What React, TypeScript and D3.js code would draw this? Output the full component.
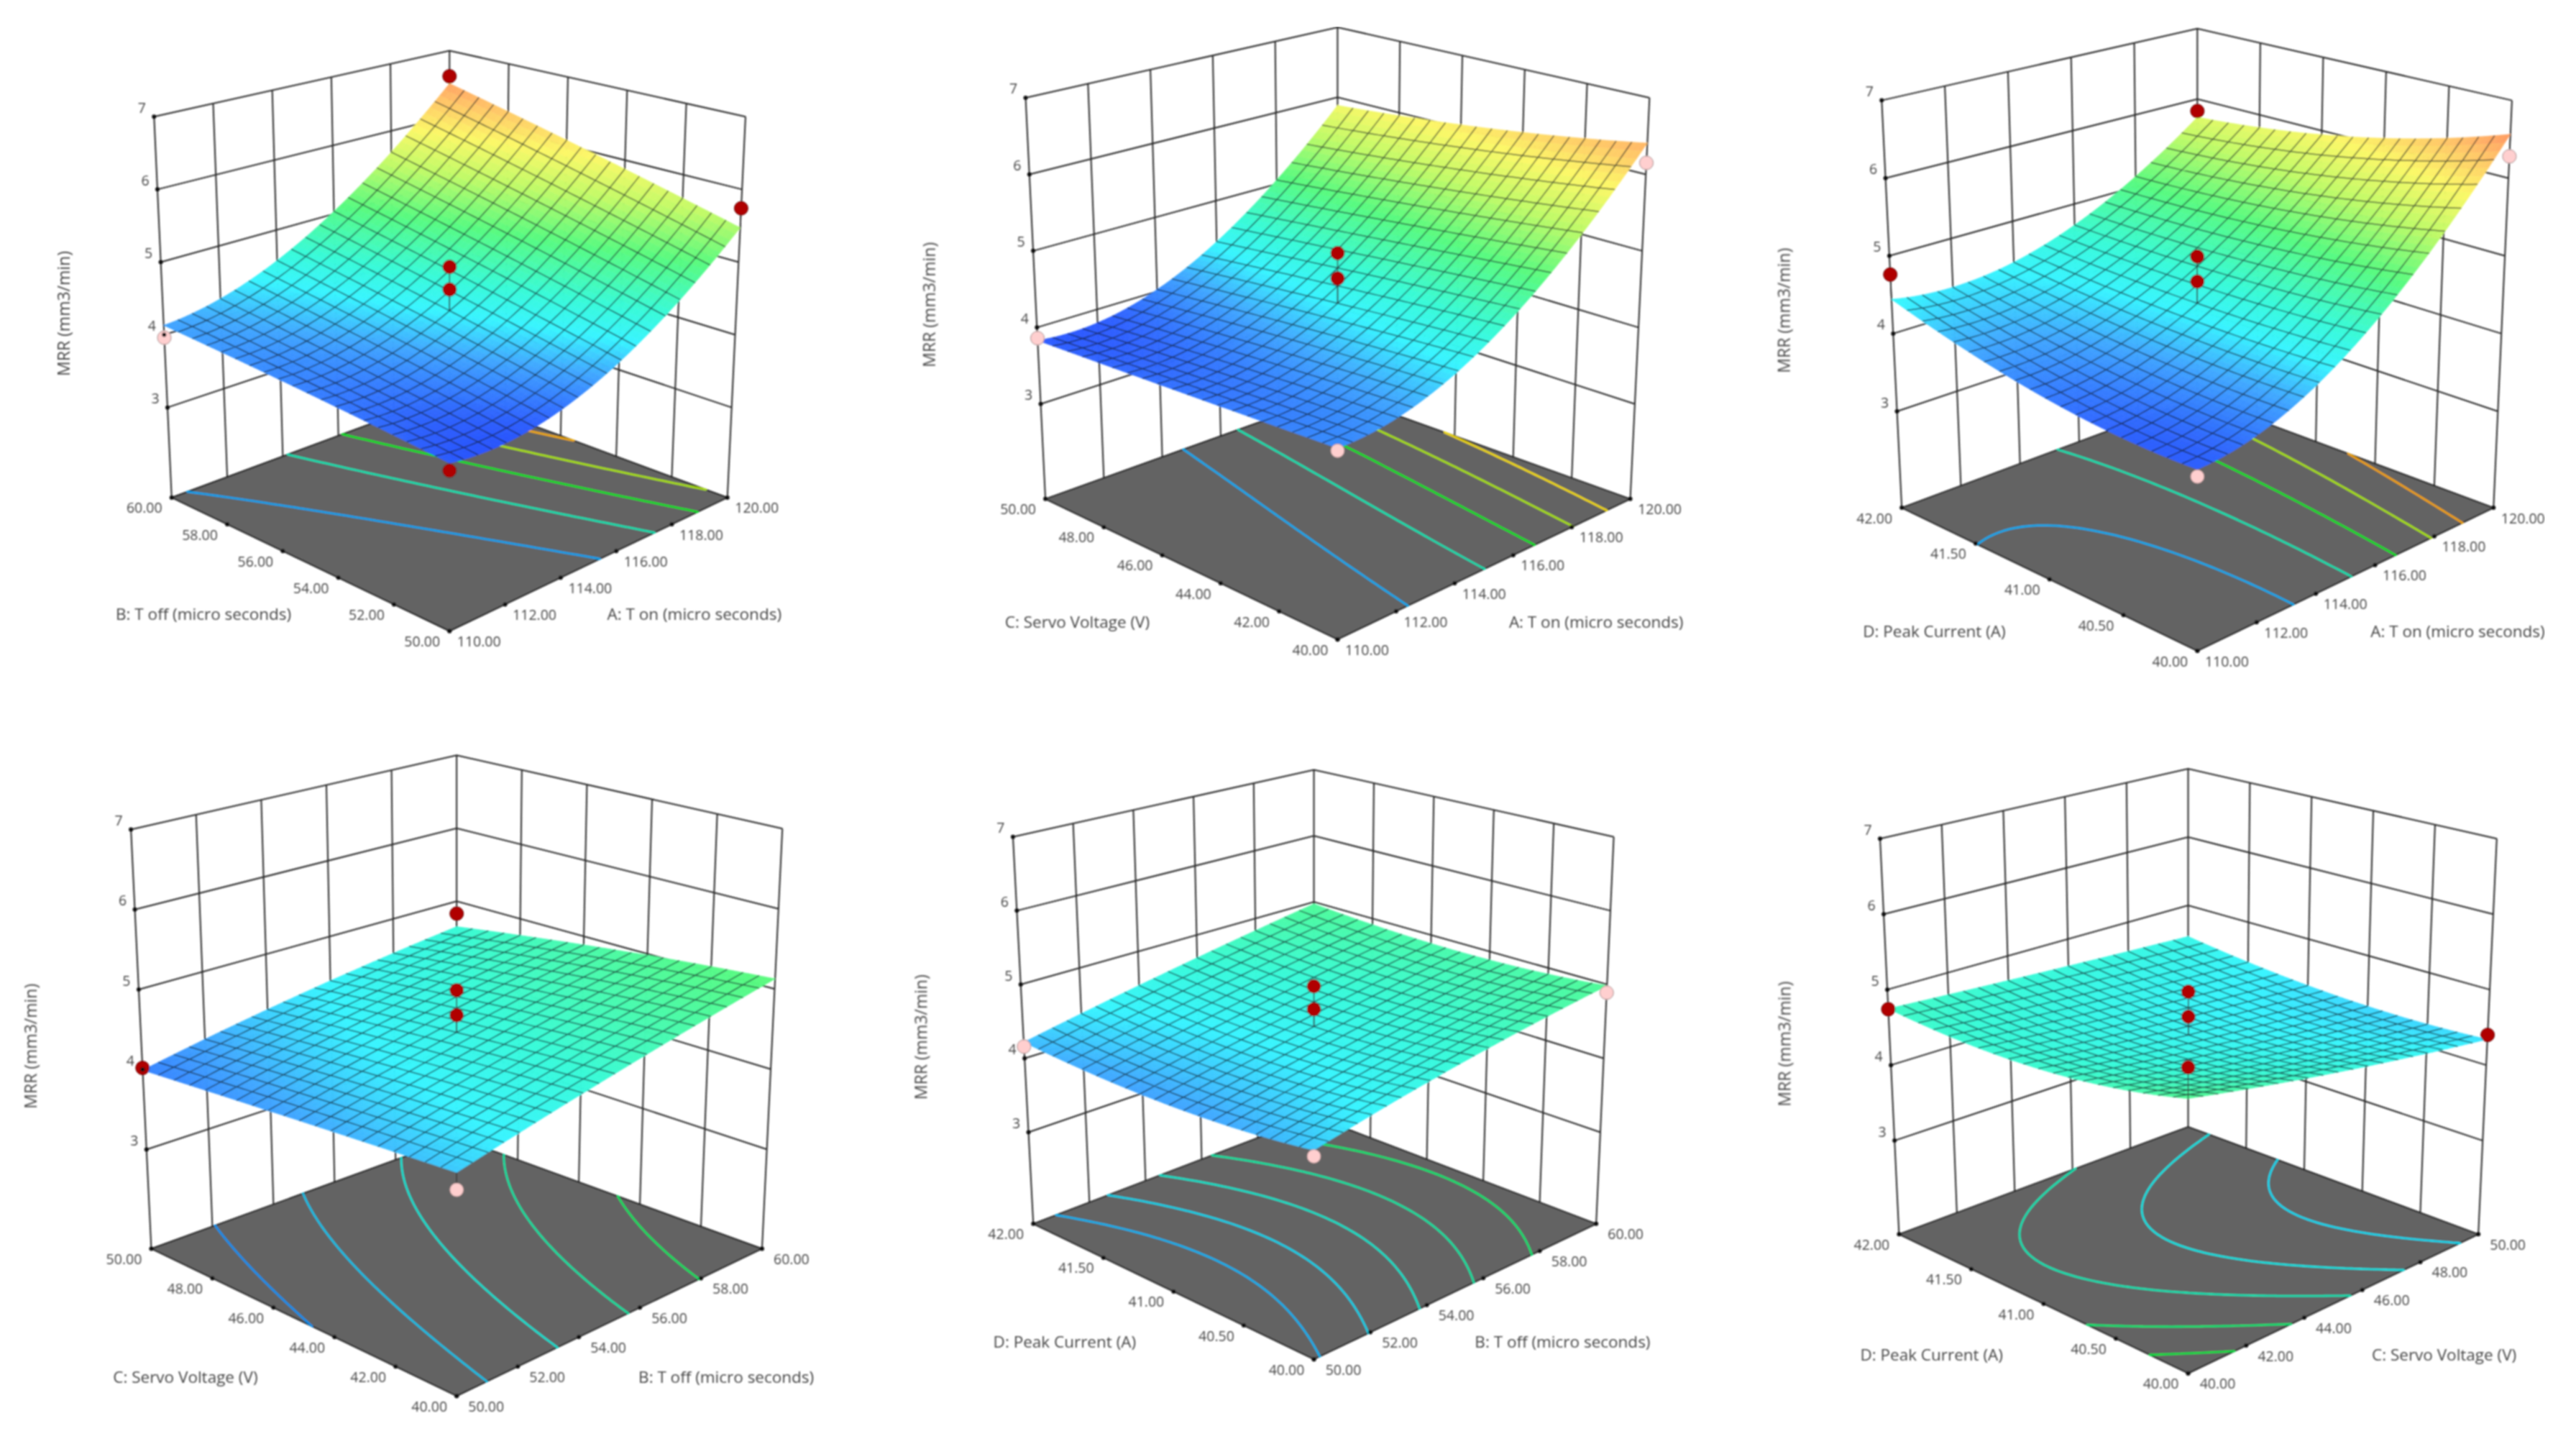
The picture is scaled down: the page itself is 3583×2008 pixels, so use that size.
import React, { useMemo } from "react";
import * as d3 from "d3";

// ---------- axis values ----------
const axisA = [110, 112, 114, 116, 118, 120];
const axisB = [50, 52, 54, 56, 58, 60];
const axisC = [40, 42, 44, 46, 48, 50];
const axisD = [40, 40.5, 41, 41.5, 42];
const zTicks = [3, 4, 5, 6, 7];
const titleA = "A: T on (micro seconds)";
const titleB = "B: T off (micro seconds)";
const titleC = "C: Servo Voltage (V)";
const titleD = "D: Peak Current (A)";
const zTitle = "MRR (mm3/min)";

// ---------- surface read-offs: rows follow the left-hand factor, columns the right-hand factor ----------
const surfaceAB = [
  [3.80, 3.86, 4.06, 4.60, 5.49],
  [3.88, 3.98, 4.25, 4.80, 5.75],
  [3.96, 4.12, 4.42, 5.00, 6.00],
  [4.04, 4.24, 4.58, 5.25, 6.25],
  [4.12, 4.35, 4.75, 5.52, 6.50],
];
const surfaceAC = [
  [4.05, 4.15, 4.58, 5.38, 6.40],
  [3.99, 4.10, 4.50, 5.24, 6.22],
  [3.93, 4.05, 4.42, 5.12, 6.10],
  [3.87, 3.99, 4.30, 4.98, 6.00],
  [3.80, 3.92, 4.18, 4.85, 5.90],
];
const surfaceAD = [
  [3.83, 4.03, 4.53, 5.38, 6.56],
  [3.90, 4.05, 4.52, 5.25, 6.28],
  [3.98, 4.08, 4.50, 5.12, 6.00],
  [4.12, 4.14, 4.50, 5.05, 5.85],
  [4.45, 4.42, 4.55, 5.02, 5.75],
];
const surfaceBC = [
  [4.27, 4.47, 4.70, 4.93, 5.12],
  [4.21, 4.42, 4.62, 4.84, 5.04],
  [4.14, 4.36, 4.55, 4.76, 4.94],
  [4.07, 4.28, 4.46, 4.65, 4.80],
  [4.00, 4.16, 4.36, 4.51, 4.65],
];
const surfaceBD = [
  [4.27, 4.45, 4.65, 4.85, 4.98],
  [4.18, 4.34, 4.55, 4.74, 4.88],
  [4.13, 4.30, 4.51, 4.70, 4.88],
  [4.15, 4.33, 4.53, 4.72, 4.90],
  [4.23, 4.38, 4.60, 4.80, 4.96],
];
const surfaceCD = [
  [5.02, 4.80, 4.66, 4.50, 4.32],
  [4.84, 4.68, 4.55, 4.43, 4.33],
  [4.70, 4.60, 4.50, 4.40, 4.32],
  [4.66, 4.57, 4.50, 4.44, 4.38],
  [4.76, 4.70, 4.66, 4.60, 4.56],
];

// ---------- contour levels and colours ----------
const levelsAB = [4.15, 4.6, 5.08, 5.55, 6.03];
const linesAB = ["#00a0f0", "#00e0b0", "#00e020", "#a8e000", "#f0a800"];
const levelsAC = [4.15, 4.6, 5.08, 5.55, 6.03];
const linesAC = ["#00a8f0", "#00e0b0", "#00e020", "#a8e000", "#f0d800"];
const levelsAD = [4.15, 4.6, 5.08, 5.55, 6.03];
const linesAD = ["#00a8f0", "#00e0b0", "#00e020", "#a8e000", "#f0a000"];
const levelsBC = [4.15, 4.35, 4.55, 4.75, 4.95];
const linesBC = ["#0090f0", "#00c0e8", "#00e0d0", "#00e0a0", "#00e060"];
const levelsBD = [4.28, 4.42, 4.56, 4.7, 4.84];
const linesBD = ["#00b0f0", "#00d0e8", "#00e0c8", "#00e0a0", "#00e070"];
const levelsCD = [4.38, 4.5, 4.62, 4.76, 4.9];
const linesCD = ["#00d8f0", "#00e0e0", "#00e0b0", "#00e070", "#00e040"];

// ---------- design points: [right-hand factor, left-hand factor, response, above surface] ----------
const pointsAB: [number, number, number, boolean][] = [
  [120, 60, 6.61, true], [120, 50, 5.74, true], [110, 60, 3.96, false], [110, 50, 3.73, true], [115, 55, 5.02, true], [115, 55, 4.71, true],
];
const pointsAC: [number, number, number, boolean][] = [
  [110, 50, 3.86, false], [120, 40, 6.15, false], [110, 40, 4.01, false], [115, 45, 5.08, true], [115, 45, 4.75, true],
];
const pointsAD: [number, number, number, boolean][] = [
  [110, 42, 4.76, true], [120, 40, 6.28, false], [120, 42, 5.83, true], [110, 40, 3.77, false], [115, 41, 5.08, true], [115, 41, 4.76, true],
];
const pointsBC: [number, number, number, boolean][] = [
  [50, 50, 4.02, true], [50, 40, 4.07, false], [60, 50, 4.83, true], [55, 45, 5.08, true], [55, 45, 4.77, true],
];
const pointsBD: [number, number, number, boolean][] = [
  [50, 42, 4.16, false], [60, 40, 4.89, false], [50, 40, 4.19, false], [55, 41, 5.05, true], [55, 41, 4.74, true],
];
const pointsCD: [number, number, number, boolean][] = [
  [40, 42, 4.74, true], [50, 40, 4.40, true], [40, 40, 5.39, true], [45, 41, 5.06, true], [45, 41, 4.73, true],
];

// ---------- layout ----------
const WIDTH = 3583;
const HEIGHT = 2008;
const Z_FLOOR = 1.76;
const Z_TOP = 7;
type Pt = [number, number];
const layouts = [
  { ox: 0, oy: 0, kx: 1.3067, ky: 1.633, F: [817, 1433], R: [1322, 1130], L: [312, 1130], B: [817, 896], TF: [817, 464], TR: [1355, 265], TL: [280, 265], TB: [817, 115], tl: [370, 1393], tr: [1262, 1393], tz: [115, 712] },
  { ox: 1200, oy: 0, kx: 1.3067, ky: 1.633, F: [863, 1452], R: [1395, 1133], L: [332, 1133], B: [863, 895], TF: [863, 454], TR: [1430, 222], TL: [296, 222], TB: [863, 62], tl: [390, 1412], tr: [1333, 1412], tz: [120, 692] },
  { ox: 2400, oy: 0, kx: 1.3255, ky: 1.633, F: [870, 1478], R: [1416, 1153], L: [325, 1153], B: [870, 903], TF: [870, 446], TR: [1450, 228], TL: [288, 228], TB: [870, 65], tl: [385, 1433], tr: [1350, 1433], tz: [107, 705] },
  { ox: 0, oy: 1020, kx: 1.3067, ky: 1.587, F: [830, 1462], R: [1385, 1137], L: [275, 1137], B: [830, 892], TF: [830, 430], TR: [1422, 210], TL: [238, 212], TB: [830, 48], tl: [337, 1420], tr: [1320, 1420], tz: [55, 690] },
  { ox: 1200, oy: 1020, kx: 1.3067, ky: 1.587, F: [820, 1381], R: [1333, 1082], L: [310, 1082], B: [820, 845], TF: [820, 415], TR: [1365, 228], TL: [273, 228], TB: [820, 80], tl: [367, 1342], tr: [1272, 1342], tz: [105, 670] },
  { ox: 2400, oy: 1020, kx: 1.3255, ky: 1.587, F: [853, 1412], R: [1388, 1105], L: [320, 1105], B: [853, 868], TF: [853, 437], TR: [1422, 232], TL: [285, 232], TB: [853, 78], tl: [380, 1370], tr: [1325, 1370], tz: [108, 685] },
];

const panels = [
  { uAxis: axisA, vAxis: axisB, uTitle: titleA, vTitle: titleB, surface: surfaceAB, levels: levelsAB, lines: linesAB, points: pointsAB },
  { uAxis: axisA, vAxis: axisC, uTitle: titleA, vTitle: titleC, surface: surfaceAC, levels: levelsAC, lines: linesAC, points: pointsAC },
  { uAxis: axisA, vAxis: axisD, uTitle: titleA, vTitle: titleD, surface: surfaceAD, levels: levelsAD, lines: linesAD, points: pointsAD },
  { uAxis: axisB, vAxis: axisC, uTitle: titleB, vTitle: titleC, surface: surfaceBC, levels: levelsBC, lines: linesBC, points: pointsBC },
  { uAxis: axisB, vAxis: axisD, uTitle: titleB, vTitle: titleD, surface: surfaceBD, levels: levelsBD, lines: linesBD, points: pointsBD },
  { uAxis: axisC, vAxis: axisD, uTitle: titleC, vTitle: titleD, surface: surfaceCD, levels: levelsCD, lines: linesCD, points: pointsCD },
];

const colorDomain = [3.6, 3.85, 4.15, 4.4, 4.65, 5.1, 5.55, 5.95, 6.3, 6.7];
const colorRange = ["#2238ff", "#2e60ff", "#40a8ff", "#38f4ff", "#38fad8", "#58fa80", "#c0fa68", "#fcf868", "#ffc468", "#ff8060"];
const surfaceColor = d3.scaleLinear<string>().domain(colorDomain).range(colorRange).interpolate(d3.interpolateRgb).clamp(true);

const FONT = "'Open Sans', 'Noto Sans', sans-serif";
const MESH = 20;
const SUB = 3;
const fmt = d3.format(".2f");
const fracs = [0, 0.2, 0.4, 0.6, 0.8, 1];

// smooth quadratic trace through five read-off values (the response surface is second order)
function smooth(vals: number[], t: number) {
  const xs = [-2, -1, 0, 1, 2];
  const a = d3.mean(vals) as number;
  const b = d3.sum(vals, (y, i) => xs[i] * y) / 10;
  const c = d3.sum(vals, (y, i) => (xs[i] * xs[i] - 2) * y) / 14;
  const x = 4 * t - 2;
  return a + b * x + c * (x * x - 2);
}

function Panel({ layout, panel, idx }: any) {
  const content = useMemo(() => {
    const toPx = (p: number[]): Pt => [layout.ox + p[0] / layout.kx, layout.oy + p[1] / layout.ky];
    const F = toPx(layout.F), R = toPx(layout.R), L = toPx(layout.L), B = toPx(layout.B);
    const TF = toPx(layout.TF), TR = toPx(layout.TR), TL = toPx(layout.TL), TB = toPx(layout.TB);
    const zNorm = d3.scaleLinear().domain([Z_FLOOR, Z_TOP]).range([0, 1]);
    const uNorm = d3.scaleLinear().domain(d3.extent(panel.uAxis) as [number, number]).range([0, 1]);
    const vNorm = d3.scaleLinear().domain(d3.extent(panel.vAxis) as [number, number]).range([0, 1]);
    const project = (u: number, v: number, z: number): Pt => {
      const w = zNorm(z);
      const out: Pt = [0, 0];
      for (const k of [0, 1]) {
        const floor = F[k] * (1 - u) * (1 - v) + R[k] * u * (1 - v) + L[k] * (1 - u) * v + B[k] * u * v;
        const top = TF[k] * (1 - u) * (1 - v) + TR[k] * u * (1 - v) + TL[k] * (1 - u) * v + TB[k] * u * v;
        out[k] = floor + (top - floor) * w;
      }
      return out;
    };
    const zAt = (u: number, v: number) => smooth(panel.surface.map((row: number[]) => smooth(row, u)), v);
    const line = d3.line<Pt>().x((d) => d[0]).y((d) => d[1]);

    // walls
    const walls: string[] = [];
    zTicks.forEach((z) => {
      walls.push(line([project(0, 1, z), project(1, 1, z), project(1, 0, z)]) as string);
    });
    fracs.forEach((f) => {
      walls.push(line([project(f, 1, Z_FLOOR), project(f, 1, Z_TOP)]) as string);
      walls.push(line([project(1, f, Z_FLOOR), project(1, f, Z_TOP)]) as string);
    });

    // contours by marching squares on the floor
    const N = 60;
    const grid: number[][] = d3.range(N + 1).map((j) => d3.range(N + 1).map((i) => zAt(i / N, j / N)));
    const contours = panel.levels.map((lev: number, li: number) => {
      const p = d3.path();
      for (let j = 0; j < N; j++) {
        for (let i = 0; i < N; i++) {
          const c: [number, number, number][] = [
            [i, j, grid[j][i]], [i + 1, j, grid[j][i + 1]], [i + 1, j + 1, grid[j + 1][i + 1]], [i, j + 1, grid[j + 1][i]],
          ];
          const hits: Pt[] = [];
          for (let e = 0; e < 4; e++) {
            const a = c[e], b = c[(e + 1) % 4];
            if ((a[2] - lev) * (b[2] - lev) < 0) {
              const t = (lev - a[2]) / (b[2] - a[2]);
              hits.push(project((a[0] + (b[0] - a[0]) * t) / N, (a[1] + (b[1] - a[1]) * t) / N, Z_FLOOR));
            }
          }
          if (hits.length >= 2) {
            p.moveTo(hits[0][0], hits[0][1]);
            p.lineTo(hits[1][0], hits[1][1]);
          }
          if (hits.length === 4) {
            p.moveTo(hits[2][0], hits[2][1]);
            p.lineTo(hits[3][0], hits[3][1]);
          }
        }
      }
      return { d: p.toString(), color: panel.lines[li] };
    });

    // surface: fine colour quads, back to front
    const M = MESH * SUB;
    const quads: { d: string; c: string }[] = [];
    for (let j = M - 1; j >= 0; j--) {
      for (let i = M - 1; i >= 0; i--) {
        const u0 = i / M, u1 = (i + 1) / M, v0 = j / M, v1 = (j + 1) / M;
        const pts = [project(u0, v0, zAt(u0, v0)), project(u1, v0, zAt(u1, v0)), project(u1, v1, zAt(u1, v1)), project(u0, v1, zAt(u0, v1))];
        quads.push({ d: (line(pts) as string) + "Z", c: surfaceColor(zAt((u0 + u1) / 2, (v0 + v1) / 2)) });
      }
    }
    const mesh: string[] = [];
    for (let k = 1; k < MESH; k++) {
      const t = k / MESH;
      const a: Pt[] = d3.range(M + 1).map((s) => project(t, s / M, zAt(t, s / M)));
      const b: Pt[] = d3.range(M + 1).map((s) => project(s / M, t, zAt(s / M, t)));
      mesh.push(line(a) as string, line(b) as string);
    }

    // points
    const pts = panel.points.map((pt: [number, number, number, boolean]) => {
      const u = uNorm(pt[0]), v = vNorm(pt[1]);
      return { at: project(u, v, pt[2]), base: project(u, v, zAt(u, v)), above: pt[3] };
    });

    const floor = (line([F, R, B, L]) as string) + "Z";
    const uTicks = panel.uAxis.map((a: number) => ({ label: fmt(a), at: project(uNorm(a), 0, Z_FLOOR) }));
    const vTicks = panel.vAxis.map((a: number) => ({ label: fmt(a), at: project(0, vNorm(a), Z_FLOOR) }));
    const zt = zTicks.map((z) => ({ label: String(z), at: project(0, 1, z) }));
    return { walls, contours, quads, mesh, pts, floor, uTicks, vTicks, zt, toPx };
  }, [layout, panel]);

  const { walls, contours, quads, mesh, pts, floor, uTicks, vTicks, zt, toPx } = content;
  const tl = toPx(layout.tl), tr = toPx(layout.tr), tz = toPx(layout.tz);
  const textCommon = { fontFamily: FONT, fontSize: 19.5, fill: "#444", textAnchor: "middle" as const, dominantBaseline: "central" as const };

  return (
    <g data-panel={idx}>
      <path d={walls.join("")} fill="none" stroke="#262626" strokeWidth={2} />
      <path d={floor} fill="#636363" stroke="#1a1a1a" strokeWidth={2} />
      {contours.map((c: any, i: number) => (
        <path key={i} d={c.d} fill="none" stroke={c.color} strokeWidth={2.8} strokeLinecap="round" />
      ))}
      {pts.map((p: any, i: number) => (
        <line key={i} x1={p.at[0]} y1={p.at[1]} x2={p.base[0]} y2={p.base[1]} stroke="#333" strokeWidth={1.4} />
      ))}
      {quads.map((q: any, i: number) => (
        <path key={i} d={q.d} fill={q.c} stroke={q.c} strokeWidth={0.6} />
      ))}
      <path d={mesh.join("")} fill="none" stroke="#141a24" strokeOpacity={0.72} strokeWidth={1.5} />
      {pts.map((p: any, i: number) => (
        <g key={i}>
          {p.above && <line x1={p.at[0]} y1={p.at[1]} x2={p.base[0]} y2={p.base[1]} stroke="#333" strokeWidth={1.4} />}
          <circle cx={p.at[0]} cy={p.at[1]} r={9.5} fill={p.above ? "#b00000" : "#ffcfcf"} stroke={p.above ? "#5a1010" : "#a08888"} strokeWidth={1} />
        </g>
      ))}
      {[...uTicks, ...vTicks, ...zt].map((t: any, i: number) => (
        <circle key={i} cx={t.at[0]} cy={t.at[1]} r={3} fill="#111" />
      ))}
      {uTicks.map((t: any, i: number) => (
        <text key={i} x={t.at[0] + 41} y={t.at[1] + 14} {...textCommon}>{t.label}</text>
      ))}
      {vTicks.map((t: any, i: number) => (
        <text key={i} x={t.at[0] - 38} y={t.at[1] + 14} {...textCommon}>{t.label}</text>
      ))}
      {zt.map((t: any, i: number) => (
        <text key={i} x={t.at[0] - 17} y={t.at[1] - 13} {...textCommon}>{t.label}</text>
      ))}
      <text x={tr[0]} y={tr[1]} {...textCommon} fontSize={22.5}>{panel.uTitle}</text>
      <text x={tl[0]} y={tl[1]} {...textCommon} fontSize={22.5}>{panel.vTitle}</text>
      <text transform={`translate(${tz[0]},${tz[1]}) rotate(-90)`} {...textCommon} fontSize={23}>{zTitle}</text>
    </g>
  );
}

export default function App() {
  return (
    <svg width={WIDTH} height={HEIGHT} viewBox={`0 0 ${WIDTH} ${HEIGHT}`} style={{ position: "absolute", left: 0, top: 0, background: "#fff" }}>
      <defs>
        <filter id="soft" x="0" y="0" width="100%" height="100%">
          <feGaussianBlur stdDeviation="0.8" />
        </filter>
      </defs>
      <rect width={WIDTH} height={HEIGHT} fill="#fff" />
      <g filter="url(#soft)">
        {panels.map((panel, i) => (
          <Panel key={i} idx={i} layout={layouts[i]} panel={panel} />
        ))}
      </g>
    </svg>
  );
}
